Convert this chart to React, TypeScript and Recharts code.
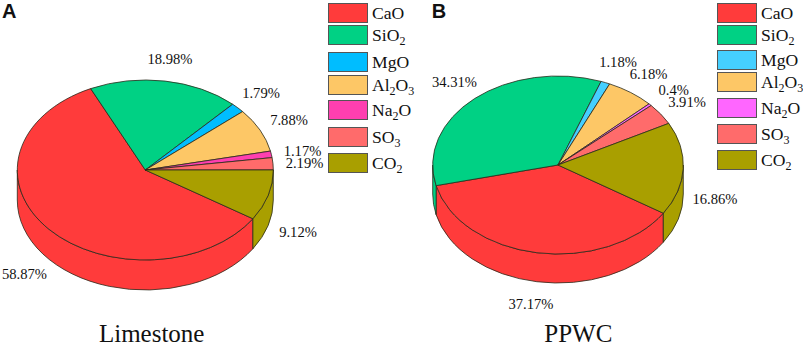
import { Cell, Legend, Pie, PieChart } from "recharts";

// Two fake-3D pies: the library gives the angles, the shapes squash them to ellipses.

const OXIDES = ["CaO", "SiO2", "MgO", "Al2O3", "Na2O", "SO3", "CO2"];
const LIMESTONE = [58.87, 18.98, 1.79, 7.88, 1.17, 2.19, 9.12];
const PPWC = [37.17, 34.31, 1.18, 6.18, 0.4, 3.91, 16.86];
const LIMESTONE_COLORS = ["#ff3b3b", "#00d184", "#00bdff", "#fdc766", "#ff3fb0", "#ff6b6b", "#a99f00"];
const PPWC_COLORS = ["#ff3b3b", "#00d184", "#45cfff", "#fdc766", "#ff66ff", "#ff6b6b", "#a99f00"];

const START = -32.8;
const SERIF = "'Liberation Serif', serif";
const EDGE = "#2a2a1a";

const LIMESTONE_LABELS = [[24.5, 274], [170, 59], [261, 93], [289, 120], [302.5, 151], [304.5, 163], [298, 232]];
const PPWC_LABELS = [[136, 304], [59.5, 82], [223, 62], [253.5, 74], [278.7, 90], [292, 102], [320, 199]];
const LIMESTONE_TOPS = [3, 25, 52, 75, 100, 127, 153];
const PPWC_TOPS = [3, 25, 50, 72, 98, 124, 150];

function withSubs(name: string) {
  return name.split(/(\d)/).map((part, i) =>
    /\d/.test(part) ? (
      <sub key={i} style={{ fontSize: 12, lineHeight: 0, verticalAlign: -4 }}>
        {part}
      </sub>
    ) : (
      part
    )
  );
}

function Panel({ left, width, values, colors, cx, cy, rx, ry, depth, labels, tops, legendX, title, titleX, letter, letterX }: any) {
  const data = OXIDES.map((name, i) => ({ name, value: values[i], fill: colors[i] }));
  const rad = (a: number) => (a * Math.PI) / 180;
  const pt = (a: number, dy = 0) => `${cx + rx * Math.cos(rad(a))} ${cy + dy - ry * Math.sin(rad(a))}`;

  const top = (p: any) => {
    const hi = Math.max(p.startAngle, p.endAngle);
    const lo = Math.min(p.startAngle, p.endAngle);
    const large = hi - lo > 180 ? 1 : 0;
    return (
      <path
        d={`M${cx} ${cy}L${pt(hi)}A${rx} ${ry} 0 ${large} 1 ${pt(lo)}Z`}
        fill={p.fill}
        stroke={EDGE}
        strokeWidth={0.8}
        strokeLinejoin="round"
      />
    );
  };

  // side wall only shows on the lower half of the ellipse
  const wall = (p: any) => {
    const hi = Math.max(p.startAngle, p.endAngle);
    const lo = Math.min(p.startAngle, p.endAngle);
    const bands = [[-180, 0], [-540, -360]];
    return (
      <g>
        {bands.map(([bLo, bHi]) => {
          const a = Math.min(hi, bHi);
          const b = Math.max(lo, bLo);
          if (a <= b) return null;
          return (
            <path
              key={bLo}
              d={`M${pt(a)}A${rx} ${ry} 0 0 1 ${pt(b)}L${pt(b, depth)}A${rx} ${ry} 0 0 0 ${pt(a, depth)}Z`}
              fill={p.fill}
              stroke={EDGE}
              strokeWidth={0.8}
              strokeLinejoin="round"
            />
          );
        })}
      </g>
    );
  };

  const renderLabel = (p: any) => (
    <text
      x={labels[p.index][0]}
      y={labels[p.index][1]}
      textAnchor="middle"
      dominantBaseline="central"
      fontFamily={SERIF}
      fontSize={14.6}
      fill="#111"
    >
      {p.value}%
    </text>
  );

  // legend rows are unevenly spaced in the figure, so they sit at fixed tops
  const renderLegend = () => (
    <div style={{ position: "relative", fontFamily: SERIF, fontSize: 17.6, color: "#111" }}>
      {data.map((item, i) => (
        <div key={item.name} style={{ position: "absolute", left: 0, top: tops[i], height: 20, display: "flex", alignItems: "center", whiteSpace: "nowrap" }}>
          <span style={{ width: 38, height: 18, background: item.fill, border: "1px solid #555", marginRight: 4, flex: "none" }} />
          <span>{withSubs(item.name)}</span>
        </div>
      ))}
    </div>
  );

  return (
    <div style={{ position: "absolute", left, top: 0 }}>
      <PieChart width={width} height={345} margin={{ top: 0, right: 0, bottom: 0, left: 0 }}>
        <Pie
          data={data}
          dataKey="value"
          nameKey="name"
          cx={cx}
          cy={cy}
          outerRadius={rx}
          startAngle={START}
          endAngle={START - 360}
          legendType="none"
          shape={wall}
          inactiveShape={wall}
          isAnimationActive={false}
        />
        <Pie
          data={data}
          dataKey="value"
          nameKey="name"
          cx={cx}
          cy={cy}
          outerRadius={rx}
          startAngle={START}
          endAngle={START - 360}
          shape={top}
          inactiveShape={top}
          label={renderLabel}
          labelLine={false}
          isAnimationActive={false}
        >
          {data.map((d) => (
            <Cell key={d.name} fill={d.fill} />
          ))}
        </Pie>
        <Legend
          layout="vertical"
          align="right"
          verticalAlign="middle"
          content={renderLegend}
          wrapperStyle={{ left: legendX, top: 0, width: 80, right: "auto", bottom: "auto" }}
        />
        <text x={titleX} y={342} textAnchor="middle" fontFamily={SERIF} fontSize={25} fill="#111">
          {title}
        </text>
        <text x={letterX} y={17.5} fontFamily="'Liberation Sans', sans-serif" fontWeight="bold" fontSize={20} fill="#111">
          {letter}
        </text>
      </PieChart>
    </div>
  );
}

export default function App() {
  return (
    <div style={{ position: "absolute", left: 0, top: 0, width: 803, height: 345, background: "#fff", overflow: "hidden" }}>
      <Panel
        left={0}
        width={395}
        values={LIMESTONE}
        colors={LIMESTONE_COLORS}
        cx={145.3}
        cy={170}
        rx={128}
        ry={90}
        depth={30}
        labels={LIMESTONE_LABELS}
        tops={LIMESTONE_TOPS}
        legendX={328}
        title="Limestone"
        titleX={151.7}
        letter="A"
        letterX={2}
      />
      <Panel
        left={395}
        width={408}
        values={PPWC}
        colors={PPWC_COLORS}
        cx={163}
        cy={165}
        rx={125.3}
        ry={89}
        depth={29}
        labels={PPWC_LABELS}
        tops={PPWC_TOPS}
        legendX={322}
        title="PPWC"
        titleX={183.3}
        letter="B"
        letterX={36.7}
      />
    </div>
  );
}
